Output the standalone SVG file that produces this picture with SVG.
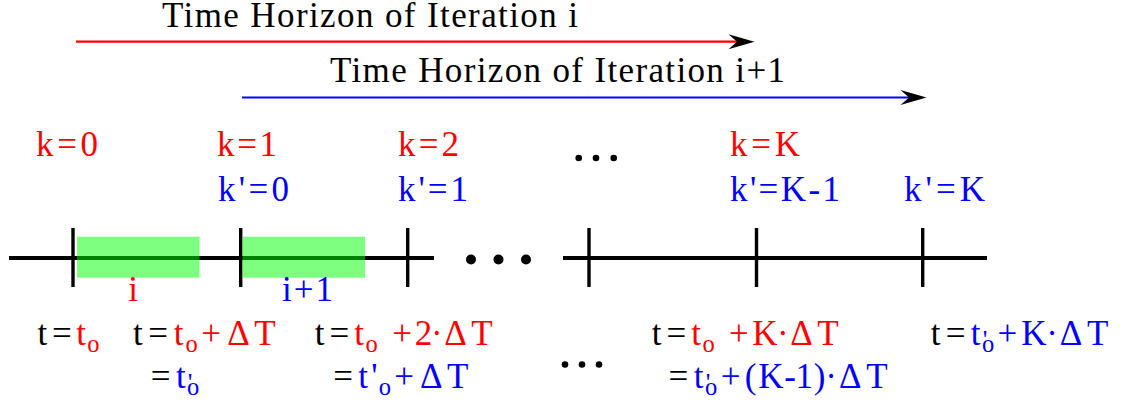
<svg xmlns="http://www.w3.org/2000/svg" width="1123" height="407" viewBox="0 0 1123 407">
<style>
text{font-family:"Liberation Serif","DejaVu Serif",serif;font-size:35px;fill:#000}
.r{fill:#ff0000}
.b{fill:#0000ff}
.sub{font-size:24.5px}
.pr{font-size:26px}
.m{text-anchor:middle}
.axis{stroke:#000;stroke-width:4;fill:none}
.tick{stroke:#000;stroke-width:3.4;fill:none}
.win{fill:#00ff00;fill-opacity:0.5}
.dot{fill:#000}
</style>
<defs>
<marker id="stealth" markerUnits="userSpaceOnUse" markerWidth="28" markerHeight="17" refX="8.5" refY="7.5" orient="auto" overflow="visible">
<path d="M26,7.5 L0,0 L8.5,7.5 L0,15 Z" fill="#000"/>
</marker>
</defs>

<g id="connectors">
<line x1="76" y1="41.7" x2="737" y2="41.7" stroke="#ff0000" stroke-width="2.2" marker-end="url(#stealth)"/>
<line x1="242" y1="97.5" x2="909" y2="97.5" stroke="#0000ff" stroke-width="2.2" marker-end="url(#stealth)"/>
</g>

<g id="titles">
<text id="title-i" x="162" y="26.5" font-size="34" textLength="416" lengthAdjust="spacing">Time Horizon of Iteration i</text>
<text id="title-i1" x="330" y="82" textLength="455" lengthAdjust="spacing">Time Horizon of Iteration i+1</text>
</g>

<g id="timeline">
<line class="axis" x1="9" y1="258" x2="434" y2="258"/>
<line class="axis" x1="563" y1="258" x2="987" y2="258"/>
<line class="tick" x1="73" y1="228" x2="73" y2="287"/>
<line class="tick" x1="240.7" y1="228" x2="240.7" y2="287"/>
<line class="tick" x1="407.7" y1="228" x2="407.7" y2="287"/>
<line class="tick" x1="589" y1="228" x2="589" y2="287"/>
<line class="tick" x1="756.5" y1="228" x2="756.5" y2="287"/>
<line class="tick" x1="922.7" y1="228" x2="922.7" y2="287"/>
<rect id="window-i" class="win" x="77" y="236.7" width="122.5" height="41"/>
<rect id="window-i1" class="win" x="242.5" y="236.7" width="122.5" height="41"/>
<circle class="dot" cx="471" cy="259.5" r="5"/>
<circle class="dot" cx="498.5" cy="259.5" r="5"/>
<circle class="dot" cx="526" cy="259.5" r="5"/>
</g>

<g id="window-labels">
<text class="r m" x="133" y="301">i</text>
<text class="b" x="282" y="301" textLength="51" lengthAdjust="spacing">i+1</text>
</g>

<g id="k-labels">
<text class="r" x="36" y="156" textLength="62" lengthAdjust="spacing">k=0</text>
<text class="r" x="217" y="156" textLength="60" lengthAdjust="spacing">k=1</text>
<text class="r" x="398" y="156" textLength="61" lengthAdjust="spacing">k=2</text>
<text class="r" x="730" y="156" textLength="70" lengthAdjust="spacing">k=K</text>
<circle class="dot" cx="578.7" cy="158" r="3.3"/>
<circle class="dot" cx="596" cy="158" r="3.3"/>
<circle class="dot" cx="613.7" cy="158" r="3.3"/>
<text class="b" x="218" y="201" textLength="71" lengthAdjust="spacing">k'=0</text>
<text class="b" x="398" y="201" textLength="70" lengthAdjust="spacing">k'=1</text>
<text class="b" x="730" y="201" textLength="110" lengthAdjust="spacing">k'=K-1</text>
<text class="b" x="904" y="201" textLength="81" lengthAdjust="spacing">k'=K</text>
</g>

<g id="t-labels">
<text class="m"><tspan x="42.4" y="345">t</tspan><tspan x="61.8" y="345">=</tspan><tspan class="r" x="81.1" y="345">t</tspan><tspan class="r sub" x="93.3" y="352">o</tspan></text>

<text class="m"><tspan x="137.75" y="345">t</tspan><tspan x="158" y="345">=</tspan><tspan class="r" x="178.5" y="345">t</tspan><tspan class="r sub" x="191.5" y="352">o</tspan><tspan class="r" x="211" y="345">+</tspan><tspan class="r" x="238.6" y="345">Δ</tspan><tspan class="r" x="265" y="345">T</tspan></text>
<text class="m"><tspan x="160.5" y="388">=</tspan><tspan class="b" x="180.8" y="388">t</tspan><tspan class="b pr" x="190" y="391">'</tspan><tspan class="b sub" x="193" y="395">o</tspan></text>

<text class="m"><tspan x="319.6" y="345">t</tspan><tspan x="339.4" y="345">=</tspan><tspan class="r" x="359.2" y="345">t</tspan><tspan class="r sub" x="371.7" y="352">o</tspan><tspan class="r" x="383" y="345"> </tspan><tspan class="r" x="402" y="345">+</tspan><tspan class="r" x="423.6" y="345">2</tspan><tspan class="r" x="436.8" y="345">·</tspan><tspan class="r" x="455.6" y="345">Δ</tspan><tspan class="r" x="481.9" y="345">T</tspan></text>
<text class="m"><tspan x="343.2" y="388">=</tspan><tspan class="b" x="363" y="388">t</tspan><tspan class="b" x="374.3" y="388">'</tspan><tspan class="b sub" x="384.9" y="395">o</tspan><tspan class="b" x="404" y="388">+</tspan><tspan class="b" x="431.3" y="388">Δ</tspan><tspan class="b" x="457.7" y="388">T</tspan></text>

<circle class="dot" cx="565" cy="364.5" r="3.3"/>
<circle class="dot" cx="582" cy="364.5" r="3.3"/>
<circle class="dot" cx="599" cy="364.5" r="3.3"/>

<text class="m"><tspan x="656.6" y="345">t</tspan><tspan x="676.3" y="345">=</tspan><tspan class="r" x="696" y="345">t</tspan><tspan class="r sub" x="708.5" y="352">o</tspan><tspan class="r" x="720" y="345"> </tspan><tspan class="r" x="738.8" y="345">+</tspan><tspan class="r" x="765" y="345">K</tspan><tspan class="r" x="782.9" y="345">·</tspan><tspan class="r" x="801.6" y="345">Δ</tspan><tspan class="r" x="827.9" y="345">T</tspan></text>
<text class="m"><tspan x="678.4" y="388">=</tspan><tspan class="b" x="698.5" y="388">t</tspan><tspan class="b pr" x="708" y="391">'</tspan><tspan class="b sub" x="711.2" y="395">o</tspan><tspan class="b" x="730.6" y="388">+</tspan><tspan class="b" x="750.7" y="388">(</tspan><tspan class="b" x="770.8" y="388">K</tspan><tspan class="b" x="790" y="388">-</tspan><tspan class="b" x="804.3" y="388">1</tspan><tspan class="b" x="819.6" y="388">)</tspan><tspan class="b" x="831" y="388">·</tspan><tspan class="b" x="850.2" y="388">Δ</tspan><tspan class="b" x="876.9" y="388">T</tspan></text>

<text class="m"><tspan x="935.7" y="345">t</tspan><tspan x="955.6" y="345">=</tspan><tspan class="b" x="975.6" y="345">t</tspan><tspan class="b pr" x="985" y="348">'</tspan><tspan class="b sub" x="988.2" y="352">o</tspan><tspan class="b" x="1007.4" y="345">+</tspan><tspan class="b" x="1034" y="345">K</tspan><tspan class="b" x="1052" y="345">·</tspan><tspan class="b" x="1071" y="345">Δ</tspan><tspan class="b" x="1097.7" y="345">T</tspan></text>
</g>
</svg>
